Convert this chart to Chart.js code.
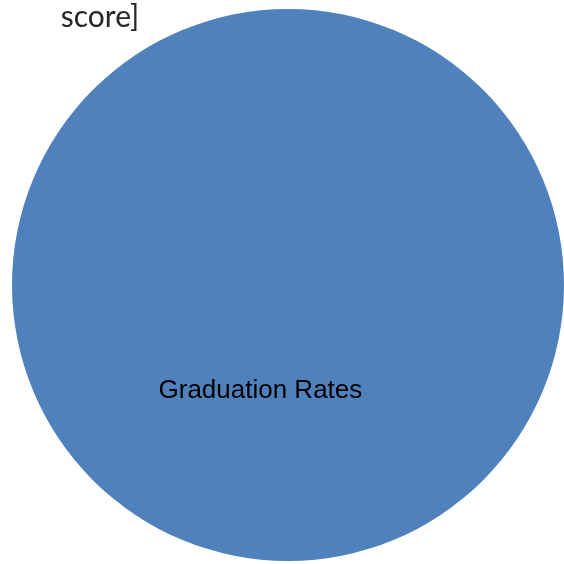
<!DOCTYPE html>
<html>
<head>
<meta charset="utf-8">
<script src="https://cdn.jsdelivr.net/npm/chart.js@4.4.1/dist/chart.umd.min.js"></script>
<style>
  html, body { margin: 0; padding: 0; background: #fff; overflow: hidden; }
  #wrap { width: 564px; height: 564px; position: relative; }
</style>
</head>
<body>
<div id="wrap"><canvas id="gradPie"></canvas></div>
<script>
var categories = ['Graduation Rates'];
var values = [100];
var sliceColors = ['#4F81BD'];
var titleText = 'score]';

// draws the cut-off heading and the slice name inside the pie
const pieText = {
  id: 'pieText',
  afterDatasetsDraw(chart) {
    const ctx = chart.ctx;
    const arc = chart.getDatasetMeta(0).data[0];
    ctx.save();
    ctx.fillStyle = '#000000';
    ctx.font = '26px "Liberation Sans", Arial, sans-serif';
    ctx.textAlign = 'center';
    ctx.textBaseline = 'middle';
    ctx.fillText(chart.data.labels[0], arc.x - 0.1 * arc.outerRadius, arc.y + 0.385 * arc.outerRadius);

    ctx.fillStyle = '#262626';
    ctx.font = '30px Lato, "Open Sans", sans-serif';
    ctx.textAlign = 'center';
    ctx.textBaseline = 'alphabetic';
    ctx.fillText(titleText, 100, 27);
    ctx.restore();
  }
};

var ctx = document.getElementById('gradPie').getContext('2d');

const gradPie = new Chart(ctx, {
  type: 'pie',
  data: {
    labels: categories,
    datasets: [{
      data: values,
      backgroundColor: sliceColors,
      borderWidth: 0
    }]
  },
  options: {
    responsive: true,
    maintainAspectRatio: false,
    animation: false,
    layout: {
      padding: { left: 12, right: 0, top: 9, bottom: 3 }
    },
    plugins: {
      legend: { display: false },
      title: { display: false },
      tooltip: { enabled: false }
    }
  },
  plugins: [pieText]
});
</script>
</body>
</html>
